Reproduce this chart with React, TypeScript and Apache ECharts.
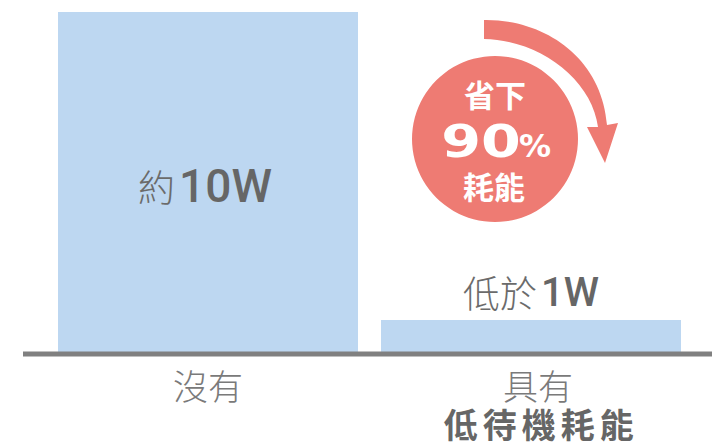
import React, { useEffect, useRef } from "react";
import * as echarts from "echarts";

const categories = ["沒有", "具有"];
const categorySubtitles = ["", "低待機耗能"];
const values = [10, 0.94];
const valuePrefixes = ["約", "低於"];
const valueAmounts = ["10W", "1W"];
const badgeTop = "省下";
const badgePercent = "90";
const badgeSign = "%";
const badgeBottom = "耗能";

const ARROW_D =
  "M484,20 C545,19 602,58 607,125 L618,123 L605,163 L587,127 L598,127 C592,80 540,40 484,39 Z";
echarts.graphic.registerShape("savingArrow", echarts.graphic.extendPath(ARROW_D, {}));

const CJK = "'Noto Sans CJK TC', 'Noto Sans CJK SC', sans-serif";
const BAR = "#BDD7F1";
const SALMON = "#EE7B73";

export default function App() {
  const ref = useRef<HTMLDivElement>(null);
  useEffect(() => {
    document.body.style.margin = "0";
    if (!ref.current) return;
    const chart = echarts.init(ref.current, undefined, { renderer: "svg" });
    const spacedTokens = (s: string) =>
      s
        .split("")
        .map((ch, k) => (k === 0 ? `{d0|${ch}}` : `{d|${ch}}`))
        .join("");
    chart.setOption({
      animation: false,
      grid: { left: 46.5, right: 33.5, top: 12, bottom: 91 },
      xAxis: {
        type: "category",
        data: categories,
        axisLine: { show: false },
        axisTick: { show: false },
        axisLabel: {
          interval: 0,
          margin: 10,
          formatter: (v: string, i: number) =>
            categorySubtitles[i]
              ? `{c2|${v}}\n${spacedTokens(categorySubtitles[i])}`
              : `{c|${v}}`,
          rich: {
            c: { fontSize: 35, lineHeight: 44, color: "#7a7a7a", fontFamily: CJK, fontWeight: 300 },
            c2: { fontSize: 35, lineHeight: 44, color: "#7a7a7a", fontFamily: CJK, fontWeight: 300, padding: [0, 0, 0, 14] },
            d0: { fontSize: 34, lineHeight: 34, color: "#666", fontFamily: CJK, fontWeight: "bold", padding: [0, 2.5, 0, 18] },
            d: { fontSize: 34, lineHeight: 34, color: "#666", fontFamily: CJK, fontWeight: "bold", padding: [0, 2.5, 0, 2.5] },
          },
        },
      },
      yAxis: { type: "value", min: 0, max: 10, show: false },
      series: [
        {
          type: "bar",
          barWidth: 300,
          itemStyle: { color: BAR },
          data: values.map((v, i) => ({
            value: v,
            label: {
              show: true,
              position: i === 0 ? "inside" : "top",
              distance: 8,
              offset: i === 0 ? [-3, 4] : [0, 0],
              formatter: `{p|${valuePrefixes[i]}}{n|${valueAmounts[i]}}`,
              rich: {
                p: { fontSize: 37, color: "#6b6b6b", fontFamily: CJK, fontWeight: 300 },
                n: {
                  fontSize: i === 0 ? 46 : 40,
                  color: "#666",
                  fontFamily: "Roboto, sans-serif",
                  fontWeight: 500,
                  padding: [0, 0, 0, 4],
                },
              },
            },
          })),
        },
      ],
      graphic: [
        {
          type: "line",
          shape: { x1: 23, y1: 354, x2: 712, y2: 354 },
          style: { stroke: "#808080", lineWidth: 5 },
          z: 10,
        },
        { type: "savingArrow", x: 0, y: 0, style: { fill: SALMON }, z: 5 },
        { type: "circle", shape: { cx: 495, cy: 139, r: 83 }, style: { fill: SALMON }, z: 5 },
        {
          type: "text",
          x: 495,
          y: 93,
          z: 6,
          style: {
            text: badgeTop,
            fill: "#fff",
            fontSize: 31,
            fontWeight: "bold",
            fontFamily: CJK,
            align: "center",
            verticalAlign: "middle",
            textAlign: "center",
            textVerticalAlign: "middle",
          },
        },
        {
          type: "text",
          x: 481,
          y: 142,
          scaleX: 1.3,
          z: 6,
          style: {
            text: badgePercent,
            fill: "#fff",
            fontSize: 44,
            fontWeight: "bold",
            fontFamily: "'DejaVu Sans', sans-serif",
            align: "center",
            verticalAlign: "middle",
            textAlign: "center",
            textVerticalAlign: "middle",
          },
        },
        {
          type: "text",
          x: 535,
          y: 146,
          z: 6,
          style: {
            text: badgeSign,
            fill: "#fff",
            fontSize: 32,
            fontWeight: "bold",
            fontFamily: "'DejaVu Sans', sans-serif",
            align: "center",
            verticalAlign: "middle",
            textAlign: "center",
            textVerticalAlign: "middle",
          },
        },
        {
          type: "text",
          x: 494,
          y: 185,
          z: 6,
          style: {
            text: badgeBottom,
            fill: "#fff",
            fontSize: 31,
            fontWeight: "bold",
            fontFamily: CJK,
            align: "center",
            verticalAlign: "middle",
            textAlign: "center",
            textVerticalAlign: "middle",
          },
        },
      ],
    });
    return () => chart.dispose();
  }, []);
  return <div ref={ref} style={{ width: 726, height: 443 }} />;
}
